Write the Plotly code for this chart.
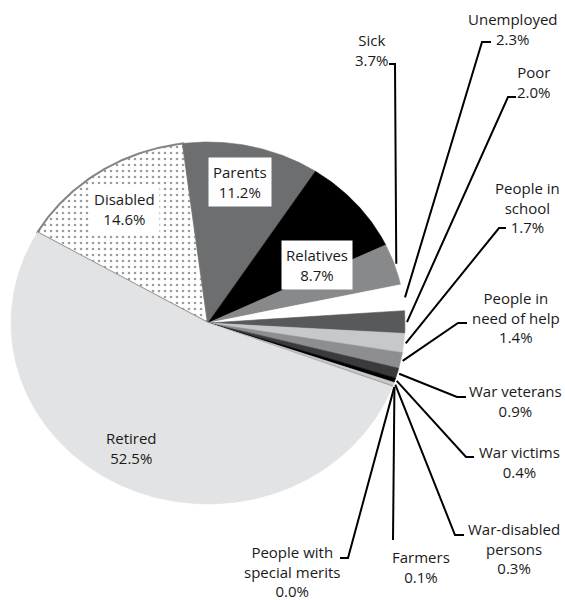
import numpy as np
import plotly.graph_objects as go

# Beneficiary groups, listed clockwise starting from "Disabled"
categories = ["Disabled", "Parents", "Relatives", "Sick", "Unemployed", "Poor",
              "People in school", "People in need of help", "War veterans",
              "War victims", "War-disabled persons", "Farmers",
              "People with special merits", "Retired"]
shares = [14.6, 11.2, 8.7, 3.7, 2.3, 2.0, 1.7, 1.4, 0.9, 0.4, 0.3, 0.1, 0.0, 52.5]
display_names = ["Disabled", "Parents", "Relatives", "Sick", "Unemployed", "Poor",
                 "People in<br>school", "People in<br>need of help", "War veterans",
                 "War victims", "War-disabled<br>persons", "Farmers",
                 "People with<br>special merits", "Retired"]
fill_colors = ["#ffffff", "#6d6e70", "#000000", "#88898b", "#ffffff", "#58595b",
               "#c7c8ca", "#8d8e90", "#3a3a3c", "#000000", "#c8c9cb", "#9a9a9c",
               "#9a9a9c", "#e2e3e4"]

# Canvas and pie geometry (pixels)
W, H = 565, 600
CX, CY = 208, 323
RX, RY = 197, 181
START_DEG = -60.0
FONT = dict(family="Open Sans", size=15, color="#1a1a1a")


def to_x(xp):
    return (xp - CX) / RX


def to_y(yp):
    return (CY - yp) / RY


# Label placement: (text centre, leader elbow, leader tick end) in pixels; None = inside label
label_layout = {
    "Disabled": ((124, 209), None, None),
    "Parents": ((240, 182), None, None),
    "Relatives": ((317, 265), None, None),
    "Retired": ((131, 448), None, None),
    "Sick": ((372, 50), (395, 64), (389, 64)),
    "Unemployed": ((513, 29), (482, 42), (491, 42)),
    "Poor": ((534, 82), (508, 97), (516, 97)),
    "People in school": ((527, 207), (499, 228), (506, 228)),
    "People in need of help": ((516, 317), (458, 323), (467, 323)),
    "War veterans": ((515, 401), (457, 397), (466, 397)),
    "War victims": ((519, 462), (466, 457), (474, 457)),
    "War-disabled persons": ((514, 548), (455, 535), (464, 535)),
    "Farmers": ((421, 567), (393, 540), (393, 540)),
    "People with special merits": ((292, 571), (348, 558), (340, 558)),
}

total = float(sum(shares))
bounds = START_DEG + 360.0 * np.concatenate([[0.0], np.cumsum(shares)]) / total

fig = go.Figure()

for i, (name, v) in enumerate(zip(categories, shares)):
    a0, a1 = bounds[i], bounds[i + 1]
    if v <= 0:
        continue
    n = max(4, int(abs(a1 - a0) * 2))
    ang = np.radians(np.linspace(a0, a1, n))
    xs = np.concatenate([[0.0], np.sin(ang), [0.0]])
    ys = np.concatenate([[0.0], np.cos(ang), [0.0]])
    if name == "Disabled":
        line = dict(color="#858585", width=2)
        pattern = dict(shape=".", fgcolor="#3c3c3c", bgcolor="#ffffff",
                       size=6, solidity=0.15)
    else:
        line = dict(color=fill_colors[i], width=0.6)
        pattern = None
    fig.add_trace(go.Scatter(
        x=xs, y=ys, mode="lines", fill="toself", fillcolor=fill_colors[i],
        fillpattern=pattern, line=line, hoverinfo="text",
        text=f"{name}: {v:.1f}%", showlegend=False))

annotations = []
for i, (name, v) in enumerate(zip(categories, shares)):
    (tx, ty), elbow, tick = label_layout[name]
    text = f"{display_names[i]}<br>{v:.1f}%"
    inside = elbow is None
    boxed = inside and name != "Retired"
    annotations.append(dict(
        x=to_x(tx), y=to_y(ty), xref="x", yref="y", text=text, showarrow=False,
        xanchor="center", yanchor="middle", align="center", font=FONT,
        bgcolor="#ffffff" if boxed else None,
        borderpad=4 if boxed else 0))
    if not inside:
        # leader from the slice's mid-angle on the rim out to its label
        mid = np.radians((bounds[i] + bounds[i + 1]) / 2.0)
        ex, ey = 1.01 * np.sin(mid), 1.01 * np.cos(mid)
        fig.add_trace(go.Scatter(
            x=[ex, to_x(elbow[0]), to_x(tick[0])],
            y=[ey, to_y(elbow[1]), to_y(tick[1])],
            mode="lines", line=dict(color="#000000", width=2),
            hoverinfo="skip", showlegend=False))

fig.update_layout(
    width=W, height=H, margin=dict(l=0, r=0, t=0, b=0),
    paper_bgcolor="#ffffff", plot_bgcolor="#ffffff",
    xaxis=dict(range=[to_x(0), to_x(W)], visible=False, fixedrange=True),
    yaxis=dict(range=[to_y(H), to_y(0)], visible=False, fixedrange=True),
    annotations=annotations, showlegend=False)

fig.write_html("out.html")
